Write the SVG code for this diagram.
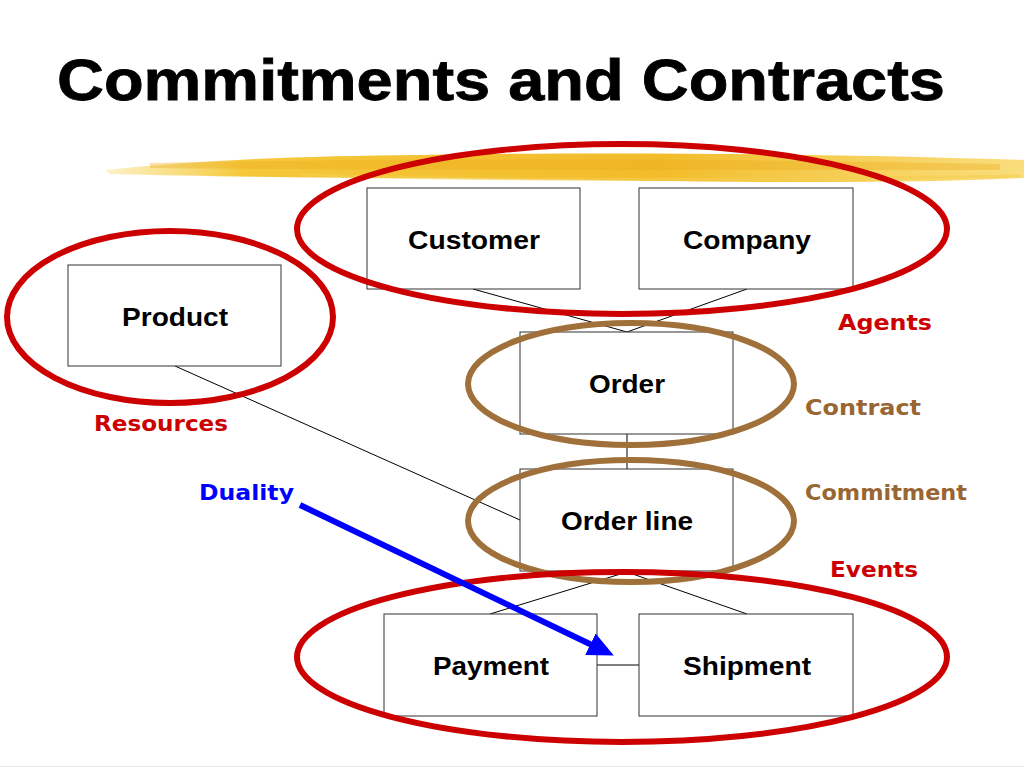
<svg xmlns="http://www.w3.org/2000/svg" width="1024" height="768" viewBox="0 0 1024 768">
<style>
.box{fill:#fff;stroke:#333;stroke-width:1}
.nt{font-family:"Liberation Sans",Arial,sans-serif;font-weight:bold;font-size:26px;fill:#000}
.ln{stroke:#000;stroke-width:1;fill:none}
.red{fill:none;stroke:#cc0000;stroke-width:6}
.brown{fill:none;stroke:#a0703a;stroke-width:6}
.lab{font-family:"Comic Sans MS","DejaVu Sans",sans-serif;font-weight:bold;font-size:22px}
</style>
<defs>
<marker id="ah" markerWidth="26" markerHeight="24" refX="4" refY="12" orient="auto" markerUnits="userSpaceOnUse">
<path d="M0,0 L26,12 L0,24 z" fill="#0000ff"/>
</marker>
<linearGradient id="gold" x1="0" y1="0" x2="1" y2="0">
<stop offset="0" stop-color="#f7d24a" stop-opacity="0.3"/>
<stop offset="0.15" stop-color="#f5c83a"/>
<stop offset="0.6" stop-color="#f2bc2a"/>
<stop offset="1" stop-color="#f7cf45" stop-opacity="0.7"/>
</linearGradient>
</defs>
<rect width="1024" height="768" fill="#fff"/>
<text x="57" y="100" font-family="Liberation Sans,Arial,sans-serif" font-weight="bold" font-size="57" fill="#000" stroke="#000" stroke-width="0.8" textLength="888" lengthAdjust="spacingAndGlyphs">Commitments and Contracts</text>
<g id="brush">
<path d="M105,170 C200,160 300,156 420,155 C600,152 800,153 1024,160 L1024,178 C850,186 650,180 420,178 C300,178 200,176 110,174 Z" fill="url(#gold)"/>
<path d="M150,163 C400,158 700,158 1000,164 L1000,170 C700,170 400,170 150,168 Z" fill="#eaa81a" opacity="0.35"/>
<path d="M300,175 C500,181 800,180 1020,176" stroke="#f5cd50" stroke-width="3" fill="none" opacity="0.6"/>
</g>
<g id="connectors">
<line class="ln" x1="473" y1="289" x2="627" y2="332"/>
<line class="ln" x1="747" y1="289" x2="627" y2="332"/>
<line class="ln" x1="175" y1="366" x2="520" y2="520"/>
<line class="ln" x1="627" y1="434" x2="627" y2="469"/>
<line class="ln" x1="627" y1="572" x2="490" y2="614"/>
<line class="ln" x1="627" y1="572" x2="747" y2="614"/>
<line class="ln" x1="597" y1="665" x2="639" y2="665"/>
</g>
<g id="customer"><rect class="box" x="367" y="188" width="213" height="101"/><text class="nt" x="408" y="249" textLength="132" lengthAdjust="spacingAndGlyphs">Customer</text></g>
<g id="company"><rect class="box" x="639" y="188" width="214" height="101"/><text class="nt" x="683" y="249" textLength="128" lengthAdjust="spacingAndGlyphs">Company</text></g>
<g id="product"><rect class="box" x="68" y="265" width="213" height="101"/><text class="nt" x="122" y="326" textLength="106" lengthAdjust="spacingAndGlyphs">Product</text></g>
<g id="order"><rect class="box" x="520" y="332" width="213" height="102"/><text class="nt" x="589" y="393" textLength="76" lengthAdjust="spacingAndGlyphs">Order</text></g>
<g id="orderline"><rect class="box" x="520" y="469" width="213" height="102"/><text class="nt" x="561" y="530" textLength="132" lengthAdjust="spacingAndGlyphs">Order line</text></g>
<g id="payment"><rect class="box" x="384" y="614" width="213" height="102"/><text class="nt" x="433" y="675" textLength="116" lengthAdjust="spacingAndGlyphs">Payment</text></g>
<g id="shipment"><rect class="box" x="639" y="614" width="214" height="102"/><text class="nt" x="683" y="675" textLength="128" lengthAdjust="spacingAndGlyphs">Shipment</text></g>
<g id="groups">
<ellipse class="red" cx="622" cy="229" rx="325" ry="85"/>
<ellipse class="red" cx="170" cy="317" rx="163" ry="86"/>
<ellipse class="brown" cx="631" cy="384" rx="163" ry="61"/>
<ellipse class="brown" cx="631" cy="521" rx="163" ry="61"/>
<ellipse class="red" cx="622" cy="657" rx="325" ry="85"/>
</g>
<g id="duality">
<line x1="300" y1="505" x2="594" y2="646" stroke="#0000ff" stroke-width="6" marker-end="url(#ah)"/>
</g>
<g id="labels">
<text class="lab" x="838" y="330" fill="#cc0000" textLength="94" lengthAdjust="spacingAndGlyphs">Agents</text>
<text class="lab" x="94" y="431" fill="#cc0000" textLength="134" lengthAdjust="spacingAndGlyphs">Resources</text>
<text class="lab" x="805" y="415" fill="#996633" textLength="116" lengthAdjust="spacingAndGlyphs">Contract</text>
<text class="lab" x="805" y="500" fill="#996633" textLength="162" lengthAdjust="spacingAndGlyphs">Commitment</text>
<text class="lab" x="830" y="577" fill="#cc0000" textLength="88" lengthAdjust="spacingAndGlyphs">Events</text>
<text class="lab" x="199" y="500" fill="#0000ff" textLength="95" lengthAdjust="spacingAndGlyphs">Duality</text>
</g>
<line x1="0" y1="766.5" x2="1024" y2="766.5" stroke="#e6e6e6" stroke-width="1"/>
</svg>
